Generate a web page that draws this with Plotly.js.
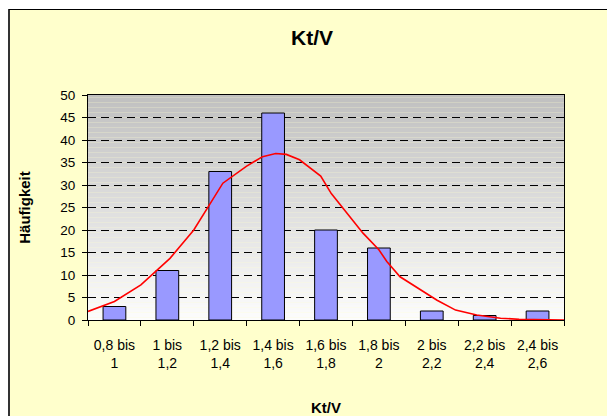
<!DOCTYPE html>
<html>
<head>
<meta charset="utf-8">
<script src="https://cdn.plot.ly/plotly-3.0.1.min.js"></script>
<style>html,body{margin:0;padding:0;background:#fff;}#chart{width:607px;height:416px;}</style>
</head>
<body>
<div id="chart"></div>
<script>
// Bin labels (categories) and counts
const categories = ["0,8 bis<br>1", "1 bis<br>1,2", "1,2 bis<br>1,4", "1,4 bis<br>1,6", "1,6 bis<br>1,8", "1,8 bis<br>2", "2 bis<br>2,2", "2,2 bis<br>2,4", "2,4 bis<br>2,6"];
const counts = [3, 11, 33, 46, 20, 16, 2, 1, 2];

// Fitted curve (Kt/V value, Häufigkeit)
const curveX = [0.80, 0.90, 1.00, 1.11, 1.20, 1.26, 1.31, 1.40, 1.46, 1.51, 1.55, 1.60, 1.68, 1.72, 1.79, 1.84, 1.90, 1.93, 1.98, 2.06, 2.12, 2.19, 2.27, 2.36, 2.43, 2.60];
const curveY = [1.9, 4.1, 7.8, 13.7, 20.0, 25.6, 30.4, 34.2, 36.3, 37.0, 36.8, 35.6, 32.0, 28.1, 23.0, 19.3, 15.6, 13.0, 9.6, 6.7, 4.4, 2.2, 1.1, 0.4, 0.15, 0.0];

const yTicks = [0, 5, 10, 15, 20, 25, 30, 35, 40, 45, 50];

const FONT = "Liberation Sans, Arial, sans-serif";

// Background shapes: yellow chart area with border, gradient plot area
const W = 607, H = 416, L = 88, R = 564, T = 95, B = 320;
const pw = R - L, ph = B - T;
const px = v => (v - L) / pw;
const py = v => (B - v) / ph;
const shapes = [];
shapes.push({type: "rect", xref: "paper", yref: "paper", layer: "below",
  x0: px(9), x1: px(640), y0: py(440), y1: py(9),
  fillcolor: "#FFFFCC", line: {width: 0}});
shapes.push({type: "line", xref: "paper", yref: "paper", layer: "below",
  x0: px(9), x1: px(9), y0: py(440), y1: py(9), line: {color: "#333333", width: 2}});
shapes.push({type: "line", xref: "paper", yref: "paper", layer: "below",
  x0: px(9), x1: px(640), y0: py(9.5), y1: py(9.5), line: {color: "#000000", width: 1}});
const N = 90;
for (let i = 0; i < N; i++) {
  const t = i / (N - 1);
  const c = Math.round(192 + (252 - 192) * t);
  shapes.push({type: "rect", xref: "paper", yref: "paper", layer: "below",
    x0: 0, x1: 1, y0: 1 - (i + 1) / N, y1: 1 - i / N,
    fillcolor: `rgb(${c},${c},${c})`, line: {width: 0}});
}

const traces = [
  {type: "bar", x: categories, y: counts, xaxis: "x", yaxis: "y",
   marker: {color: "#9999FF", line: {color: "#000000", width: 1}},
   hoverinfo: "x+y", showlegend: false},
  {type: "scatter", mode: "lines", x: curveX, y: curveY, xaxis: "x2", yaxis: "y",
   line: {color: "#FF0000", width: 1.6}, showlegend: false}
];

const layout = {
  width: W, height: H,
  margin: {l: L, r: W - R, t: T, b: H - B, pad: 0},
  paper_bgcolor: "#FFFFFF",
  plot_bgcolor: "rgba(0,0,0,0)",
  font: {family: FONT, color: "#000000"},
  title: {text: "<b>Kt/V</b>", font: {family: FONT, size: 21, color: "#000"},
          xref: "container", yref: "container", x: 312 / W, y: 1 - 38 / H,
          xanchor: "center", yanchor: "middle"},
  bargap: 0.57,
  xaxis: {type: "category", range: [-0.5, 8.5], tickson: "boundaries",
          ticks: "outside", ticklen: 5, tickcolor: "#000", showline: true, mirror: true,
          linecolor: "#000", linewidth: 1, showgrid: false, zeroline: false,
          ticklabelstandoff: 12,
          tickfont: {family: FONT, size: 14, color: "#000"},
          title: {text: "<b>Kt/V</b>", font: {family: FONT, size: 15, color: "#000"}, standoff: 33},
          automargin: false, fixedrange: true},
  xaxis2: {overlaying: "x", range: [0.8, 2.6], visible: false, fixedrange: true},
  yaxis: {range: [0, 50], tickvals: yTicks, ticks: "outside", ticklen: 5, tickcolor: "#000",
          showline: true, mirror: true, linecolor: "#000", linewidth: 1,
          showgrid: true, gridcolor: "#000", gridwidth: 1, griddash: "8px,5px",
          zeroline: false, ticklabelstandoff: 4,
          tickfont: {family: FONT, size: 13.5, color: "#000"},
          title: {text: "<b>Häufigkeit</b>", font: {family: FONT, size: 15, color: "#000"}, standoff: 26},
          automargin: false, fixedrange: true},
  shapes: shapes
};

Plotly.newPlot("chart", traces, layout, {displayModeBar: false, staticPlot: true});
</script>
</body>
</html>
